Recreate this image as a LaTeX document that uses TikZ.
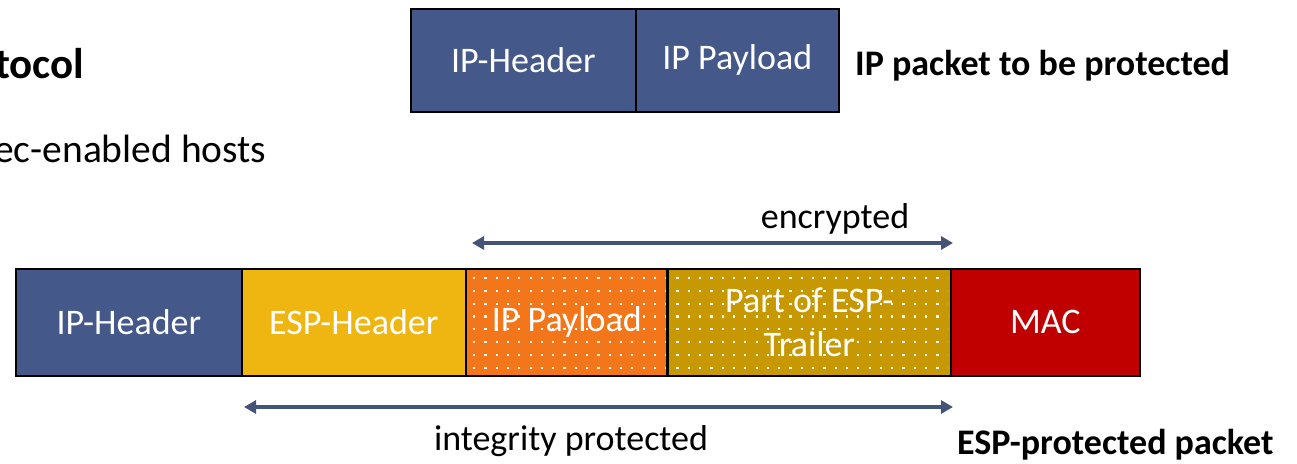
\documentclass[tikz,border=0pt]{standalone}
\usepackage{fontspec}
\setmainfont{Carlito}
\usetikzlibrary{arrows.meta}
\definecolor{ipblue}{RGB}{68,89,137}
\definecolor{espyellow}{RGB}{239,181,16}
\definecolor{payorange}{RGB}{243,118,26}
\definecolor{trailgold}{RGB}{200,152,0}
\definecolor{macred}{RGB}{192,0,0}
\definecolor{arrowslate}{RGB}{68,84,120}
\begin{document}
\begin{tikzpicture}[x=1pt,y=-1pt,
  field/.style={draw=black, line width=1.6pt, text=white, anchor=north west,
    inner sep=0pt, align=center, font=\fontsize{36}{44}\selectfont},
  span/.style={{Triangle[length=12pt,width=13pt]}-{Triangle[length=12pt,width=13pt]},
    line width=3.4pt, draw=arrowslate},
  caption/.style={font=\fontsize{36}{40}\selectfont, inner sep=0pt},
  bold/.style={font=\bfseries\fontsize{36}{40}\selectfont, inner sep=0pt}]
\useasboundingbox (0,0) rectangle (1297,463);

% heading fragments on the left
\node[font=\bfseries\fontsize{43}{50}\selectfont, inner sep=0pt, anchor=base west] (title) at (-5,78) {tocol};
\node[font=\fontsize{39.5}{46}\selectfont, inner sep=0pt, anchor=base west] (hosts) at (-6,162) {ec-enabled hosts};

% plain IP packet
\node[field, fill=ipblue, minimum width=225, minimum height=103] (tiph) at (410,8) {IP-Header};
\node[field, fill=ipblue, minimum width=203, minimum height=103] (tipp) at (635,8) {IP Payload};
\node[bold, anchor=base west] (tlabel) at (855,75) {IP packet to be protected};

% ESP-protected packet
\node[field, fill=ipblue, minimum width=226, minimum height=107] (iph) at (15,268) {IP-Header};
\node[field, fill=espyellow, minimum width=224, minimum height=107] (esph) at (241,268) {ESP-Header};
\node[field, fill=payorange, minimum width=202, minimum height=107] (pay) at (465,268) {IP Payload};
\node[field, fill=trailgold, minimum width=283, minimum height=107] (trail) at (667,268) {Part of ESP-\\Trailer};
\node[field, fill=macred, minimum width=189, minimum height=107] (mac) at (950,268) {MAC};

% dotted fill over the encrypted fields
\begin{scope}
  \clip (467,270) rectangle (948,373);
  \foreach \i in {0,...,44}
    \foreach \j in {0,...,8}
      \fill[white] (473+\i*11.3, 277+\j*12.8) rectangle ++(2.2,2.2);
\end{scope}
\draw[black, line width=1.6pt] (667,268) -- (667,375);

% coverage spans
\coordinate (encL) at (472,243);
\coordinate (encR) at (953,243);
\coordinate (intL) at (244,407);
\coordinate (intR) at (953,407);
\draw[span] (encL) -- (encR);
\draw[span] (intL) -- (intR);
\node[caption, anchor=base] (enc) at (835,228) {encrypted};
\node[caption, anchor=base] (integ) at (571,450) {integrity protected};
\node[bold, anchor=base west] (blabel) at (957,454) {ESP-protected packet};
\end{tikzpicture}
\end{document}
